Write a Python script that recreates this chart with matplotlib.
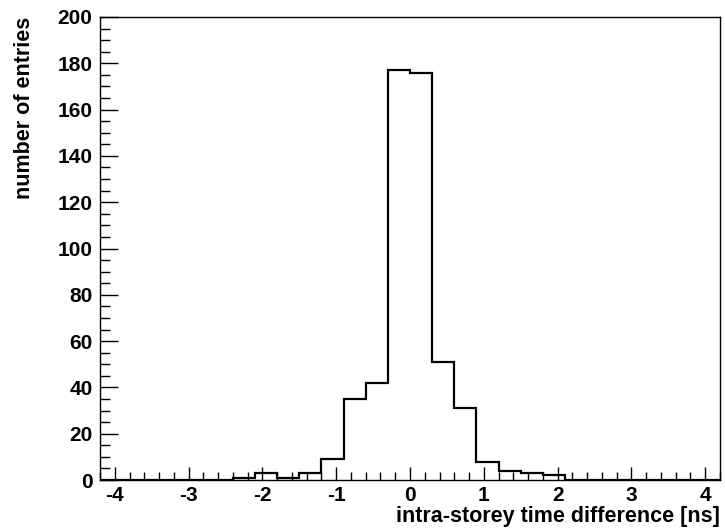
import numpy as np
import matplotlib.pyplot as plt
from matplotlib.ticker import MultipleLocator

# Histogram edges (bin width 0.3 ns) and counts
bin_edges = np.round(np.arange(-4.2, 4.2 + 0.001, 0.3), 2)
counts = [0, 0, 0, 0, 0, 0,
          1, 3, 1, 3, 9, 35, 42, 177, 176, 51, 31, 8, 4, 3, 2,
          0, 0, 0, 0, 0, 0, 0]

x_label = "intra-storey time difference [ns]"
y_label = "number of entries"

plt.rcParams['font.family'] = ['Liberation Sans', 'DejaVu Sans']
plt.rcParams['font.weight'] = 'bold'
plt.rcParams['axes.unicode_minus'] = False

fig = plt.figure(figsize=(7.25, 5.31), dpi=100)
ax = fig.add_axes([0.138, 0.096, 0.855, 0.872])

ax.stairs(counts, bin_edges, color='black', linewidth=1.6)

ax.set_xlim(-4.2, 4.2)
ax.set_ylim(0, 200)

ax.xaxis.set_major_locator(MultipleLocator(1))
ax.xaxis.set_minor_locator(MultipleLocator(0.2))
ax.yaxis.set_major_locator(MultipleLocator(20))
ax.yaxis.set_minor_locator(MultipleLocator(5))

ax.tick_params(which='both', direction='in', top=False, right=False, labelsize=15, width=1)
ax.tick_params(axis='x', which='major', length=9.5, pad=4)
ax.tick_params(axis='x', which='minor', length=5.5)
ax.tick_params(axis='y', which='major', length=13, pad=5.5)
ax.tick_params(axis='y', which='minor', length=7)

for lbl in ax.get_xticklabels() + ax.get_yticklabels():
    lbl.set_fontweight('bold')

for s in ax.spines.values():
    s.set_linewidth(1.0)

ax.set_xlabel(x_label, fontsize=15.5, fontweight='bold', loc='right')
ax.set_ylabel(y_label, fontsize=15.5, fontweight='bold', loc='top')
ax.xaxis.set_label_coords(1.0, -0.056)
ax.xaxis.label.set_va('top')
ax.yaxis.set_label_coords(-0.105, 1.0)

fig.savefig('out.png', dpi=100)
